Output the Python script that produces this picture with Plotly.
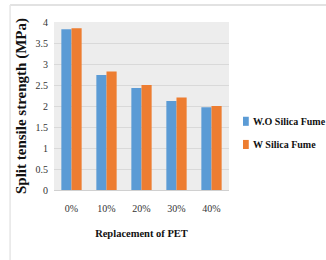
import plotly.graph_objects as go

categories = ["0%", "10%", "20%", "30%", "40%"]
wo_silica = [3.83, 2.74, 2.43, 2.12, 1.97]
w_silica = [3.85, 2.82, 2.50, 2.20, 2.00]
series_names = ["W.O Silica Fume", "W Silica Fume"]
series_colors = ["#5b9bd5", "#ed7d31"]
y_ticks = [0, 0.5, 1, 1.5, 2, 2.5, 3, 3.5, 4]
y_tick_labels = ["0", "0.5", "1", "1.5", "2", "2.5", "3", "3.5", "4"]

font_serif = "Liberation Serif"

fig = go.Figure()
for vals, name, col in zip([wo_silica, w_silica], series_names, series_colors):
    fig.add_trace(go.Bar(x=categories, y=vals, name=name, showlegend=False,
                         marker=dict(color=col, line=dict(width=0))))

# legend drawn as keys + text (paper coordinates)
legend_y = [0.409, 0.271]
shapes = [
    dict(type="line", xref="paper", yref="paper", x0=-0.251, x1=1.6,
         y0=1.101, y1=1.101, line=dict(color="#d9d9d9", width=1.5)),
    dict(type="line", xref="paper", yref="paper", x0=-0.251, x1=-0.251,
         y0=1.101, y1=-0.45, line=dict(color="#e6e6e6", width=1.5)),
]
annotations = []
for name, col, ly in zip(series_names, series_colors, legend_y):
    shapes.append(dict(type="rect", xref="paper", yref="paper",
                       x0=1.080, x1=1.113, y0=ly - 0.027, y1=ly + 0.027,
                       fillcolor=col, line=dict(width=0)))
    annotations.append(dict(text=name, xref="paper", yref="paper", x=1.126, y=ly,
                            xanchor="left", yanchor="middle", showarrow=False,
                            font=dict(family=font_serif, size=10, color="#111111",
                                      weight="bold")))

fig.update_layout(
    width=326, height=260,
    margin=dict(l=54, r=97, t=22, b=70, autoexpand=False),
    paper_bgcolor="white",
    plot_bgcolor="#ededed",
    barmode="group",
    bargap=0.42,
    bargroupgap=0,
    font=dict(family=font_serif, size=10, color="#333333"),
    showlegend=False,
    xaxis=dict(
        showgrid=False, showline=True, linecolor="#d0d0d0", linewidth=1,
        ticks="", ticklabelstandoff=9,
        tickfont=dict(family=font_serif, size=10, color="#333333"),
        title=dict(text="Replacement of PET",
                   font=dict(family=font_serif, size=10.5, color="#111111", weight="bold"),
                   standoff=16),
    ),
    yaxis=dict(
        range=[0, 4], tickvals=y_ticks, ticktext=y_tick_labels,
        showgrid=True, gridcolor="#d9d9d9", gridwidth=1,
        zeroline=False, showline=False, ticks="",
        ticklabelstandoff=5,
        tickfont=dict(family=font_serif, size=10, color="#333333"),
        title=dict(text="Split tensile strength (MPa)",
                   font=dict(family=font_serif, size=15, color="#111111", weight="bold"),
                   standoff=5),
    ),
    shapes=shapes,
    annotations=annotations,
)

fig.write_html(
    "out.html",
    config={"displayModeBar": False},
    post_script="document.body.style.margin='0';document.body.style.overflow='hidden';",
)
